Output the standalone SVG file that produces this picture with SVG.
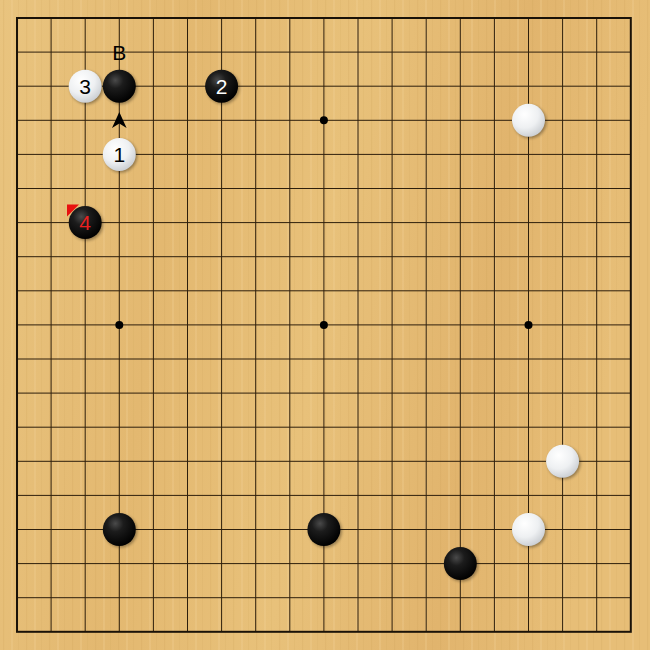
<svg xmlns="http://www.w3.org/2000/svg" width="650" height="650" viewBox="0 0 650 650">
<defs>
  <linearGradient id="wood" x1="0" y1="0" x2="1" y2="0.15">
    <stop offset="0" stop-color="#e9c47f"/>
    <stop offset="0.3" stop-color="#e3b870"/>
    <stop offset="0.55" stop-color="#e8c17a"/>
    <stop offset="0.8" stop-color="#e1b46d"/>
    <stop offset="1" stop-color="#e7be77"/>
  </linearGradient>
  <pattern id="grain" width="23" height="650" patternUnits="userSpaceOnUse">
    <rect x="3" y="0" width="1.2" height="650" fill="#c99a52" opacity="0.18"/>
    <rect x="11" y="0" width="2" height="650" fill="#f3d59a" opacity="0.25"/>
    <rect x="18" y="0" width="0.8" height="650" fill="#c99a52" opacity="0.15"/>
  </pattern>
  <radialGradient id="bstone" cx="0.38" cy="0.32" r="0.7">
    <stop offset="0" stop-color="#4a4a4a"/>
    <stop offset="0.35" stop-color="#1c1c1c"/>
    <stop offset="1" stop-color="#000"/>
  </radialGradient>
  <radialGradient id="wstone" cx="0.38" cy="0.32" r="0.75">
    <stop offset="0" stop-color="#ffffff"/>
    <stop offset="0.55" stop-color="#eef0f2"/>
    <stop offset="1" stop-color="#c6cacf"/>
  </radialGradient>
  <filter id="sh" x="-30%" y="-30%" width="160%" height="160%">
    <feGaussianBlur stdDeviation="1.5"/>
  </filter>
  <style>
    .grid { stroke: #2e1f0c; stroke-width: 1; fill: none; }
    .border { stroke: #1a1208; stroke-width: 2; fill: none; }
    .star { fill: #000; }
    .shadow { fill: #000; opacity: 0.35; }
    .b { fill: url(#bstone); }
    .w { fill: url(#wstone); }
    .lbl { font-family: "Liberation Sans", Arial, sans-serif; font-size: 21px; text-anchor: middle; }
  </style>
</defs>
<rect x="0" y="0" width="650" height="650" fill="url(#wood)"/>
<rect x="0" y="0" width="650" height="650" fill="url(#grain)"/>

<g id="board">
  <path class="grid" d="M17 52.1H630.8M17 86.2H630.8M17 120.3H630.8M17 154.4H630.8M17 188.5H630.8M17 222.6H630.8M17 256.7H630.8M17 290.8H630.8M17 324.9H630.8M17 359H630.8M17 393.1H630.8M17 427.2H630.8M17 461.3H630.8M17 495.4H630.8M17 529.5H630.8M17 563.6H630.8M17 597.7H630.8
  M51.1 18V631.8M85.2 18V631.8M119.3 18V631.8M153.4 18V631.8M187.5 18V631.8M221.6 18V631.8M255.7 18V631.8M289.8 18V631.8M323.9 18V631.8M358 18V631.8M392.1 18V631.8M426.2 18V631.8M460.3 18V631.8M494.4 18V631.8M528.5 18V631.8M562.6 18V631.8M596.7 18V631.8"/>
  <rect class="border" x="17" y="18" width="613.8" height="613.8"/>
  <circle class="star" cx="323.9" cy="120.3" r="4"/>
  <circle class="star" cx="119.3" cy="324.9" r="4"/>
  <circle class="star" cx="323.9" cy="324.9" r="4"/>
  <circle class="star" cx="528.5" cy="324.9" r="4"/>
</g>

<g id="label-B">
  <text class="lbl" x="119.3" y="60" fill="#000">B</text>
</g>
<g id="marker-arrow">
  <path d="M119.3 112 L126.6 128 L119.3 123.5 L112 128 Z" fill="#000"/>
</g>

<g id="marker-last">
  <polygon points="67,204.5 79,204.5 67,216.5" fill="#e8100f"/>
</g>

<g id="stones">
  <g id="w3">
    <circle class="shadow" cx="86.7" cy="87.7" r="16.5" filter="url(#sh)"/>
    <circle class="w" cx="85.2" cy="86.2" r="16.5"/>
    <text class="lbl" x="85.2" y="93.8" fill="#000">3</text>
  </g>
  <g id="bB">
    <circle class="shadow" cx="120.8" cy="87.7" r="16.5" filter="url(#sh)"/>
    <circle class="b" cx="119.3" cy="86.2" r="16.5"/>
  </g>
  <g id="b2">
    <circle class="shadow" cx="223.1" cy="87.7" r="16.5" filter="url(#sh)"/>
    <circle class="b" cx="221.6" cy="86.2" r="16.5"/>
    <text class="lbl" x="221.6" y="93.8" fill="#fff">2</text>
  </g>
  <g id="w1">
    <circle class="shadow" cx="120.8" cy="155.9" r="16.5" filter="url(#sh)"/>
    <circle class="w" cx="119.3" cy="154.4" r="16.5"/>
    <text class="lbl" x="119.3" y="162" fill="#000">1</text>
  </g>
  <g id="b4">
    <circle class="shadow" cx="86.7" cy="224.1" r="16.5" filter="url(#sh)"/>
    <circle class="b" cx="85.2" cy="222.6" r="16.5"/>
    <text class="lbl" x="85.2" y="230.2" fill="#e82020">4</text>
  </g>
  <g id="w-q16">
    <circle class="shadow" cx="530" cy="121.8" r="16.5" filter="url(#sh)"/>
    <circle class="w" cx="528.5" cy="120.3" r="16.5"/>
  </g>
  <g id="w-r6">
    <circle class="shadow" cx="564.1" cy="462.8" r="16.5" filter="url(#sh)"/>
    <circle class="w" cx="562.6" cy="461.3" r="16.5"/>
  </g>
  <g id="w-q4">
    <circle class="shadow" cx="530" cy="531" r="16.5" filter="url(#sh)"/>
    <circle class="w" cx="528.5" cy="529.5" r="16.5"/>
  </g>
  <g id="b-d4">
    <circle class="shadow" cx="120.8" cy="531" r="16.5" filter="url(#sh)"/>
    <circle class="b" cx="119.3" cy="529.5" r="16.5"/>
  </g>
  <g id="b-k4">
    <circle class="shadow" cx="325.4" cy="531" r="16.5" filter="url(#sh)"/>
    <circle class="b" cx="323.9" cy="529.5" r="16.5"/>
  </g>
  <g id="b-o3">
    <circle class="shadow" cx="461.8" cy="565.1" r="16.5" filter="url(#sh)"/>
    <circle class="b" cx="460.3" cy="563.6" r="16.5"/>
  </g>
</g>
</svg>
